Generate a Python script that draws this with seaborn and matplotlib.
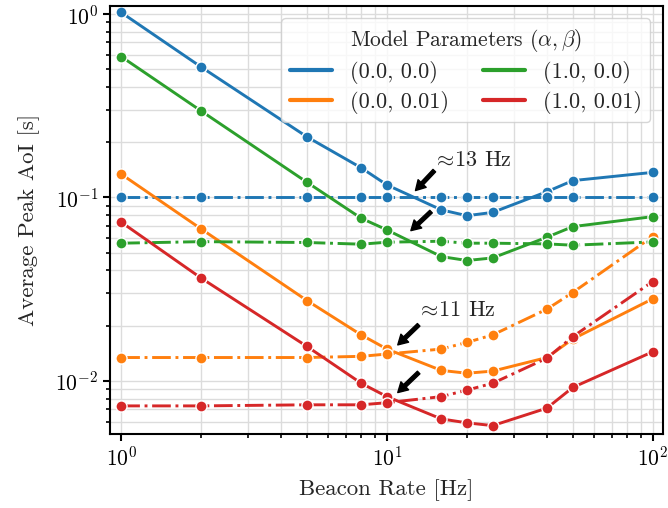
import numpy as np
import pandas as pd
import matplotlib.pyplot as plt
import seaborn as sns
from matplotlib.lines import Line2D

# beacon rates [Hz]
rates = [1, 2, 5, 8, 10, 16, 20, 25, 40, 50, 100]

params = ["(0.0, 0.0)", "(0.0, 0.01)", "(1.0, 0.0)", "(1.0, 0.01)"]
colors = ["#1f77b4", "#ff7f0e", "#2ca02c", "#d62728"]

# solid curves (average peak AoI [s])
solid_00 = [1.02, 0.514, 0.214, 0.145, 0.117, 0.0856, 0.0795, 0.0829, 0.1075, 0.1235, 0.137]
solid_001 = [0.134, 0.0673, 0.0274, 0.0178, 0.0149, 0.0114, 0.0110, 0.0113, 0.0134, 0.0169, 0.0280]
solid_10 = [0.586, 0.296, 0.121, 0.0770, 0.0665, 0.0476, 0.0453, 0.0468, 0.0607, 0.0693, 0.0786]
solid_101 = [0.0733, 0.0363, 0.0154, 0.0097, 0.0082, 0.0062, 0.0059, 0.0057, 0.0071, 0.0092, 0.0144]

# dash-dot curves
dash_00 = [0.100, 0.100, 0.100, 0.100, 0.100, 0.100, 0.100, 0.100, 0.100, 0.100, 0.100]
dash_001 = [0.0134, 0.0134, 0.0134, 0.0136, 0.0140, 0.0149, 0.0162, 0.0178, 0.0246, 0.0303, 0.0612]
dash_10 = [0.0563, 0.0574, 0.0568, 0.0556, 0.0570, 0.0577, 0.0563, 0.0563, 0.0558, 0.0549, 0.0572]
dash_101 = [0.0073, 0.0073, 0.0074, 0.0074, 0.0076, 0.0082, 0.0089, 0.0097, 0.0133, 0.0174, 0.0348]

solid = [solid_00, solid_001, solid_10, solid_101]
dashed = [dash_00, dash_001, dash_10, dash_101]

rows = []
for p, s, d in zip(params, solid, dashed):
    for r, a, b in zip(rates, s, d):
        rows.append({"rate": r, "aoi": a, "params": p, "curve": "A"})
        rows.append({"rate": r, "aoi": b, "params": p, "curve": "B"})
df = pd.DataFrame(rows)

sns.set_style("whitegrid")
plt.rcParams["font.family"] = ["cmr10"]
plt.rcParams["mathtext.fontset"] = "cm"
plt.rcParams["axes.formatter.use_mathtext"] = True
plt.rcParams["font.size"] = 16
plt.rcParams["axes.edgecolor"] = "black"
plt.rcParams["axes.linewidth"] = 1.5
plt.rcParams["xtick.bottom"] = True
plt.rcParams["ytick.left"] = True
plt.rcParams["xtick.color"] = "black"
plt.rcParams["ytick.color"] = "black"

fig, ax = plt.subplots(figsize=(6.68, 5.08), dpi=100)
fig.subplots_adjust(left=0.165, right=0.992, top=0.988, bottom=0.146)

sns.lineplot(data=df, x="rate", y="aoi", hue="params", style="curve",
             hue_order=params, palette=colors,
             dashes={"A": "", "B": (6.4, 1.6, 1, 1.6)},
             markers={"A": "o", "B": "o"}, markersize=8,
             markeredgecolor="white", markeredgewidth=1,
             linewidth=2.1, legend=False, ax=ax)

ax.set_xscale("log")
ax.set_yscale("log")
ax.set_xlim(0.909, 109)
ax.set_ylim(0.00514, 1.105)
ax.grid(True, which="both", color="#dcdcdc", linewidth=1)
ax.tick_params(which="major", length=5, width=1.5, labelsize=15.5)
ax.tick_params(which="minor", length=3, width=1.2, bottom=True, left=True)
ax.set_xlabel("Beacon Rate [Hz]", fontsize=16.5, labelpad=7)
ax.set_ylabel("Average Peak AoI [s]", fontsize=16.5, labelpad=11)

arrow = dict(facecolor="black", edgecolor="black", width=2.6, headwidth=8,
             headlength=7, shrink=0)
ax.annotate("", xy=(12.8, 0.109), xytext=(15.07, 0.140), arrowprops=arrow)
ax.annotate("", xy=(12.3, 0.0659), xytext=(14.65, 0.0837), arrowprops=arrow)
ax.annotate("", xy=(10.98, 0.00863), xytext=(13.16, 0.0111), arrowprops=arrow)
ax.annotate("", xy=(10.98, 0.0157), xytext=(13.16, 0.0202), arrowprops=arrow)
ax.text(15.3, 0.160, r"$\!\approx\!$13 Hz", ha="left", va="center", fontsize=16)
ax.text(13.3, 0.0242, r"$\!\approx\!$11 Hz", ha="left", va="center", fontsize=16)

handles = [Line2D([], [], color=c, linewidth=3) for c in colors]
ax.legend(handles, params, title=r"Model Parameters ($\alpha, \beta$)",
          ncol=2, loc="upper right", fontsize=16, title_fontsize=15.5,
          borderaxespad=0.55, columnspacing=1.5, handlelength=1.9,
          labelspacing=0.3)

plt.savefig("out.png", dpi=100)
plt.close()
